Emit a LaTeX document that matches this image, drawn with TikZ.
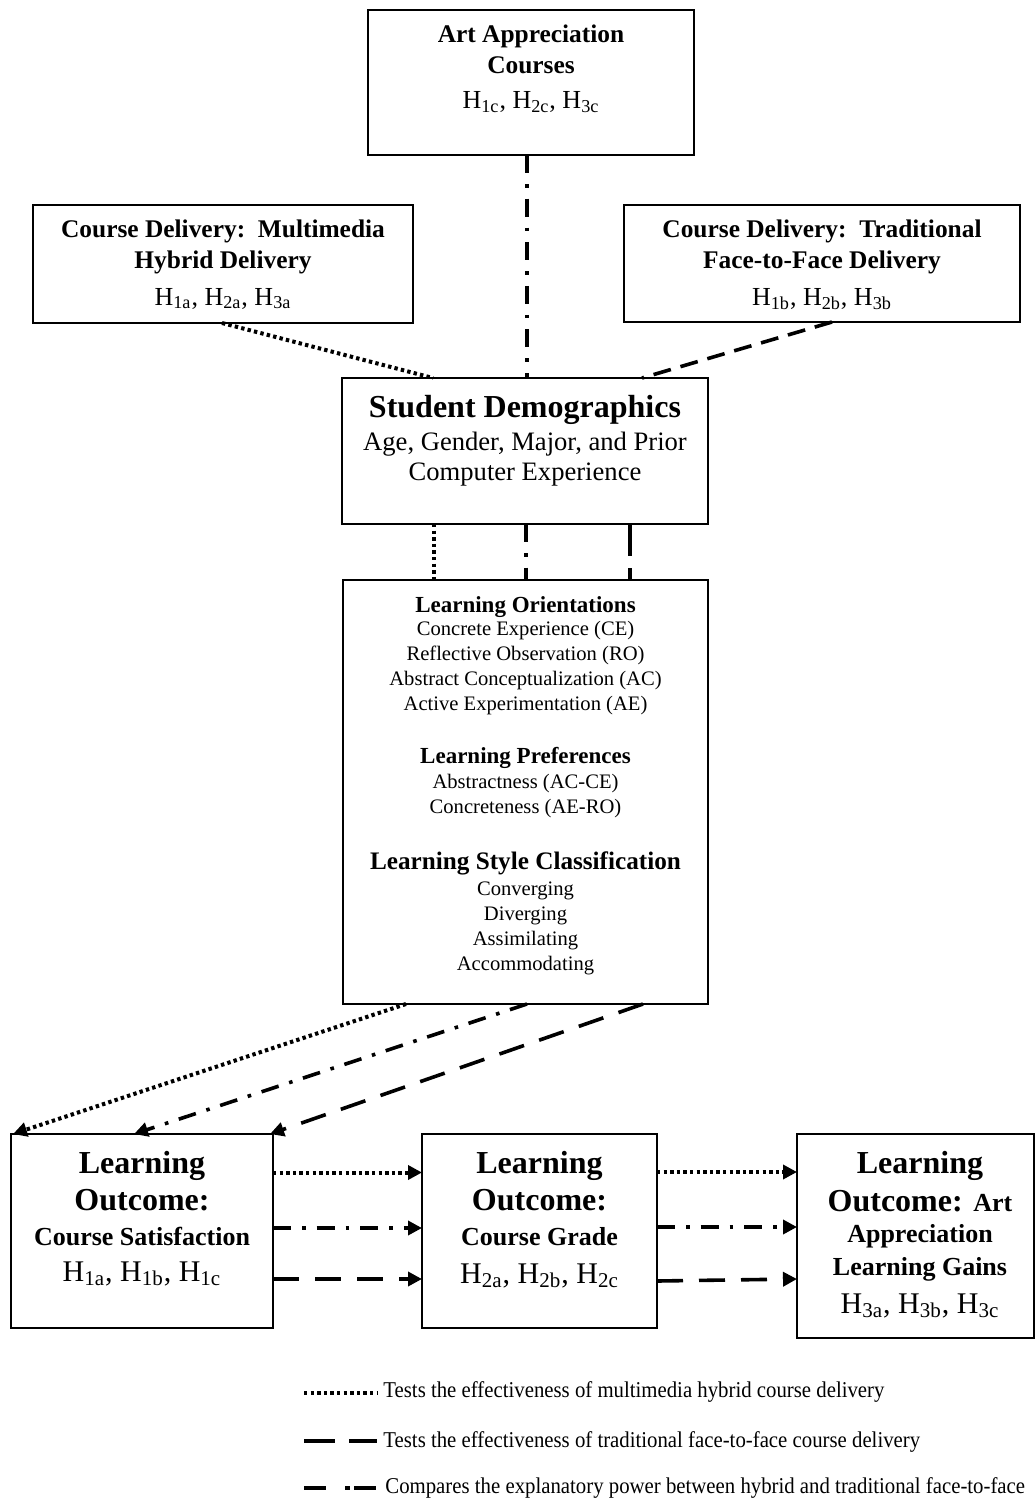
\documentclass[tikz,border=0pt]{standalone}
\usepackage{fontspec}
\setmainfont{Liberation Serif}
\newfontfamily\legendfont[FakeStretch=0.92]{Liberation Serif}
\usetikzlibrary{arrows.meta,calc}
\newcommand\myfs[1]{\fontsize{#1}{#1}\selectfont}
\newcommand\Hs[1]{H\textsubscript{#1}}
\tikzset{
  box/.style={draw, line width=1pt, inner sep=0pt, outer sep=0pt, anchor=north west},
  txt/.style={anchor=base, inner sep=0pt, align=center},
  hdA/.style={txt, font=\bfseries\myfs{12.7}},
  hyA/.style={txt, font=\myfs{13}},
  sdT/.style={txt, font=\bfseries\myfs{16}},
  sdB/.style={txt, font=\myfs{13.3}},
  loH/.style={txt, font=\bfseries\myfs{11.5}},
  loS/.style={txt, font=\bfseries\myfs{12.6}},
  loB/.style={txt, font=\myfs{10.3}},
  bigT/.style={txt, font=\bfseries\myfs{16}},
  midT/.style={txt, font=\bfseries\myfs{13}},
  hyB/.style={txt, font=\myfs{15}},
  legT/.style={anchor=base west, inner sep=0pt, font=\legendfont\myfs{11.3}},
  conn/.style={line width=1.8pt},
  dotln/.style={line width=2pt, dash pattern=on 1.7pt off 1.6pt},
  dashln/.style={conn, dash pattern=on 13pt off 8pt},
  dashsh/.style={conn, dash pattern=on 9pt off 5pt},
  ddln/.style={conn, dash pattern=on 9pt off 5.5pt on 1.8pt off 5.5pt},
  tip/.style={-{Triangle[length=7pt,width=7pt]}},
}
\begin{document}
\begin{tikzpicture}[x=0.5pt,y=-0.5pt]
\fill[white] (0,0) rectangle (1035,1504);
\useasboundingbox (0,0) rectangle (1035,1504);

% boxes
\node[box, minimum width=163pt, minimum height=72.5pt] (art) at (368,10) {};
\node[box, minimum width=190pt, minimum height=59pt] (mm) at (33,205) {};
\node[box, minimum width=198pt, minimum height=58.5pt] (tr) at (624,205) {};
\node[box, minimum width=183pt, minimum height=73pt] (sd) at (342,378) {};
\node[box, minimum width=182.5pt, minimum height=212pt] (lor) at (343,580) {};
\node[box, minimum width=131pt, minimum height=97pt] (lo1) at (11,1134) {};
\node[box, minimum width=117.5pt, minimum height=97pt] (lo2) at (422,1134) {};
\node[box, minimum width=118.5pt, minimum height=102pt] (lo3) at (797,1134) {};

% texts: Art
\node[hdA] (artA) at (531,43) {Art Appreciation};
\node[hdA] (artB) at (531,74) {Courses};
\node[hyA] (artC) at (531,109) {\Hs{1c}, \Hs{2c}, \Hs{3c}};
% Multimedia
\node[hdA] (mmA) at (223,237) {Course Delivery:\ \ Multimedia};
\node[hdA] (mmB) at (223,268) {Hybrid Delivery};
\node[hyA] (mmC) at (223,305) {\Hs{1a}, \Hs{2a}, \Hs{3a}};
% Traditional
\node[hdA] (trA) at (822,237) {Course Delivery:\ \ Traditional};
\node[hdA] (trB) at (822,268) {Face-to-Face Delivery};
\node[hyA] (trC) at (822,305) {\Hs{1b}, \Hs{2b}, \Hs{3b}};
% Student demographics
\node[sdT] (sdA) at (525,417) {Student Demographics};
\node[sdB] (sdB) at (525,450) {Age, Gender, Major, and Prior};
\node[sdB] (sdC) at (525,480) {Computer Experience};
% Learning orientations box
\node[loH] (lr1) at (525.5,612) {Learning Orientations};
\node[loB] (lr2) at (525.5,635) {Concrete Experience (CE)};
\node[loB] (lr3) at (525.5,660) {Reflective Observation (RO)};
\node[loB] (lr4) at (525.5,685) {Abstract Conceptualization (AC)};
\node[loB] (lr5) at (525.5,710) {Active Experimentation (AE)};
\node[loH] (lr6) at (525.5,763) {Learning Preferences};
\node[loB] (lr7) at (525.5,788) {Abstractness (AC-CE)};
\node[loB] (lr8) at (525.5,813) {Concreteness (AE-RO)};
\node[loS] (lr9) at (525.5,869) {Learning Style Classification};
\node[loB] (lr10) at (525.5,895) {Converging};
\node[loB] (lr11) at (525.5,920) {Diverging};
\node[loB] (lr12) at (525.5,945) {Assimilating};
\node[loB] (lr13) at (525.5,970) {Accommodating};
% Outcome 1
\node[bigT] (o1a) at (142,1173) {Learning};
\node[bigT] (o1b) at (142,1210) {Outcome:};
\node[midT] (o1c) at (142,1245) {Course Satisfaction};
\node[hyB] (o1d) at (142,1281) {\Hs{1a}, \Hs{1b}, \Hs{1c}};
% Outcome 2
\node[bigT] (o2a) at (539.5,1173) {Learning};
\node[bigT] (o2b) at (539.5,1210) {Outcome:};
\node[midT] (o2c) at (539.5,1245) {Course Grade};
\node[hyB] (o2d) at (539.5,1283) {\Hs{2a}, \Hs{2b}, \Hs{2c}};
% Outcome 3
\node[bigT] (o3a) at (920,1173) {Learning};
\node[bigT] (o3b) at (920,1211) {Outcome: {\myfs{13}Art}};
\node[midT] (o3c) at (920,1242) {Appreciation};
\node[midT] (o3d) at (920,1275) {Learning Gains};
\node[hyB] (o3e) at (920,1313) {\Hs{3a}, \Hs{3b}, \Hs{3c}};

% connectors top
\draw[ddln] ($(art.south)+(-4,0)$) coordinate (a1) -- (a1 |- sd.north);
\draw[dotln] ($(mm.south west)+(189,0)$) -- ($(sd.north west)+(91,0)$);
\draw[dashsh] ($(tr.south west)+(208,0)$) -- ($(sd.north west)+(300,0)$);
% sd -> lor
\draw[dotln] ($(sd.south west)+(92,0)$) coordinate (s1) -- (s1 |- lor.north);
\draw[ddln] ($(sd.south west)+(184,0)$) coordinate (s2) -- (s2 |- lor.north);
\draw[conn, dash pattern=on 16pt off 6pt] ($(sd.south west)+(288,0)$) coordinate (s3) -- (s3 |- lor.north);
% lor -> lo1
\draw[dotln, tip] ($(lor.south west)+(63,0)$) -- ($(lo1.north west)+(2,0)$);
\draw[ddln, tip] ($(lor.south west)+(184,0)$) -- ($(lo1.north west)+(123,0)$);
\draw[dashln, tip] ($(lor.south west)+(300,0)$) -- ($(lo1.north west)+(259,0)$);
% lo1 -> lo2
\draw[dotln, tip] ($(lo1.north east)+(0,38.5)$) coordinate (h1) -- (h1 -| lo2.west);
\draw[ddln, tip] ($(lo1.north east)+(0,94)$) coordinate (h2) -- (h2 -| lo2.west);
\draw[dashln, tip] ($(lo1.north east)+(0,145)$) coordinate (h3) -- (h3 -| lo2.west);
% lo2 -> lo3
\draw[dotln, tip] ($(lo2.north east)+(0,38)$) coordinate (k1) -- (k1 -| lo3.west);
\draw[ddln, tip] ($(lo2.north east)+(0,93)$) coordinate (k2) -- (k2 -| lo3.west);
\draw[dashln, tip] ($(lo2.north east)+(0,147)$) -- ($(lo3.north west)+(0,145)$);

% legend
\coordinate (l1a) at (304,1393); \coordinate (l1b) at (377,1393);
\coordinate (l2a) at (304,1441); \coordinate (l2b) at (377,1441);
\coordinate (l3a) at (304,1488); \coordinate (l3b) at (377,1488);
\draw[dotln] (l1a) -- (l1b);
\draw[conn, dash pattern=on 15.5pt off 7pt] (l2a) -- (l2b);
\draw[conn, dash pattern=on 11pt off 9.5pt on 2.5pt off 2pt on 11pt off 5pt] (l3a) -- (l3b);
\node[legT] (lg1) at (383,1397) {Tests the effectiveness of multimedia hybrid course delivery};
\node[legT] (lg2) at (383,1447) {Tests the effectiveness of traditional face-to-face course delivery};
\node[legT] (lg3) at (385,1493) {Compares the explanatory power between hybrid and traditional face-to-face};
\end{tikzpicture}
\end{document}
